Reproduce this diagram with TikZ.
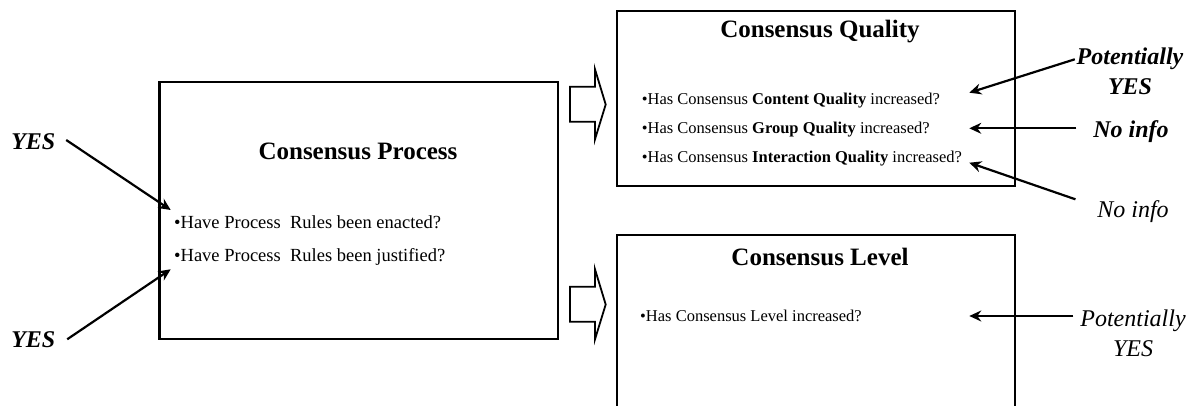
\documentclass[tikz,border=0pt]{standalone}
\usepackage{fontspec}
\setmainfont{Liberation Serif}
\usepackage{tikz}
\usetikzlibrary{arrows.meta, positioning}

\tikzset{
  panel/.style={draw, line width=2.2pt, inner sep=0pt},
  heading/.style={font=\fontsize{25}{30}\selectfont\bfseries, anchor=base},
  item/.style={font=\fontsize{16.5}{20}\selectfont, anchor=base west, inner sep=0pt},
  bigitem/.style={item, font=\fontsize{18.5}{22}\selectfont},
  verdict/.style={font=\fontsize{24}{30}\selectfont\bfseries\itshape, align=center, inner sep=0pt, anchor=base},
  hint/.style={font=\fontsize{24}{30}\selectfont\itshape, align=center, inner sep=0pt, anchor=base},
  pointer/.style={line width=2.2pt, -{Stealth[length=12pt, width=11pt, inset=4pt]}},
  flow/.style={draw, line width=1.8pt, fill=white, line join=miter}
}

\begin{document}
\begin{tikzpicture}[x=1pt, y=-1pt]
\fill[white] (0,0) rectangle (1195,406);
\useasboundingbox (0,0) rectangle (1195,406);
\clip (0,0) rectangle (1195,406);

% the three panels
\node[panel, minimum width=398.5pt, minimum height=257.6pt] (process) at (358.75,210.5) {};
\node[panel, minimum width=398.3pt, minimum height=175pt] (quality) at (815.85,98.5) {};
\node[panel, minimum width=398.3pt, minimum height=200pt] (level) at (815.85,335) {};

% titles
\node[heading] (processT) at (358,160) {Consensus Process};
\node[heading] (qualityT) at (820,38) {Consensus Quality};
\node[heading] (levelT) at (820,266) {Consensus Level};

% questions
\node[bigitem] (p1) at (174,228.3) {\textbullet Have Process~ Rules been enacted?};
\node[bigitem] (p2) at (174,261.7) {\textbullet Have Process~ Rules been justified?};
\node[item] (q1) at (641.7,105) {\textbullet Has Consensus \textbf{Content Quality} increased?};
\node[item] (q2) at (641.7,134) {\textbullet Has Consensus \textbf{Group Quality} increased?};
\node[item] (q3) at (641.7,162.5) {\textbullet Has Consensus \textbf{Interaction Quality} increased?};
\node[item] (l1) at (640,321.7) {\textbullet Has Consensus Level increased?};

% hollow flow arrows
\foreach \dy in {0,200} {
  \begin{scope}[shift={(0,\dy)}]
    \draw[flow] (570,86.7) -- (595,86.7) -- (595,69.3) -- (605.7,104.5)
      -- (595,139.3) -- (595,121.7) -- (570,121.7) -- cycle;
  \end{scope}
}

% answers
\node[verdict] (yesA) at (33.3,149.3) {YES};
\node[verdict] (yesB) at (33.3,347) {YES};
\node[verdict] (qa) at (1130,95) {Potentially\\YES};
\node[verdict] (qb) at (1131,137.5) {No info};
\node[hint] (qc) at (1133,218) {No info};
\node[hint] (la) at (1133,356) {Potentially\\YES};

\coordinate (pA) at (170.7,210);
\coordinate (pB) at (170.7,269.3);
\coordinate (tA) at (969.3,92.7);
\coordinate (tB) at (969.3,128.3);
\coordinate (tC) at (969.3,162.7);
\coordinate (tD) at (969.3,316);

\draw[pointer] ([xshift=10.7pt, yshift=9.3pt]yesA.base east) -- (pA);
\draw[pointer] ([xshift=11.7pt, yshift=7.7pt]yesB.base east) -- (pB);
\draw[pointer] ([xshift=-1.7pt, yshift=35.7pt]qa.base west) -- (tA);
\draw[pointer] ([xshift=-16.7pt, yshift=9.2pt]qb.base west) -- (tB);
\draw[pointer] ([xshift=-21.7pt, yshift=18.7pt]qc.base west) -- (tC);
\draw[pointer] ([xshift=-6.7pt, yshift=40pt]la.base west) -- (tD);
\end{tikzpicture}
\end{document}
